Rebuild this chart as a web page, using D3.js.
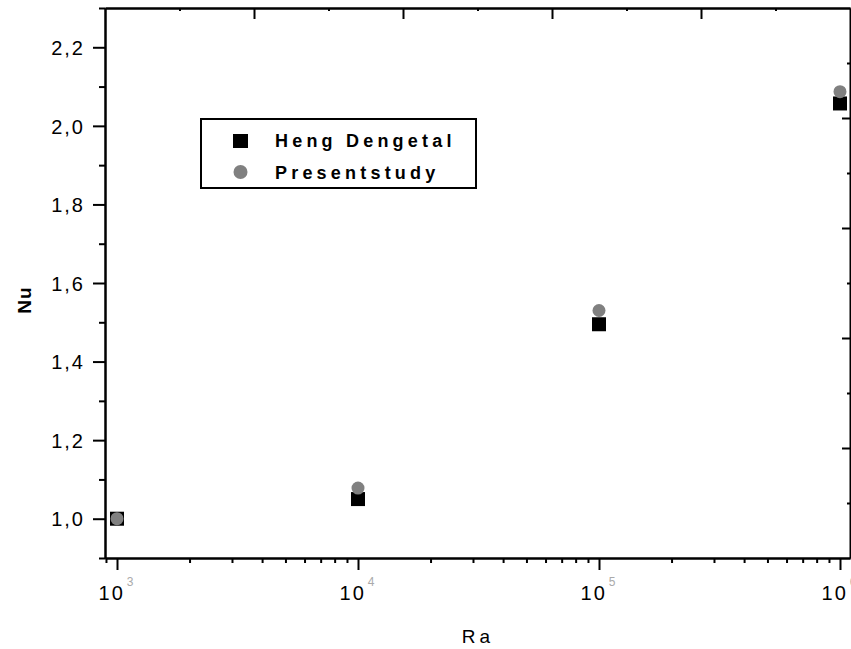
<!DOCTYPE html>
<html>
<head>
<meta charset="utf-8">
<script src="https://cdn.jsdelivr.net/npm/d3@7"></script>
<style>
  body { margin: 0; background: #fff; }
  svg { display: block; font-family: "Liberation Sans", Arial, sans-serif; }
  .axis path, .axis line { stroke: #000; stroke-width: 2; }
</style>
</head>
<body>
<svg id="chart" width="851" height="649"></svg>
<script>
// data
const ra = [1e3, 1e4, 1e5, 1e6];
const nuHengDeng = [1.0, 1.05, 1.495, 2.057];
const nuPresent = [1.0, 1.078, 1.53, 2.087];
const seriesNames = ["Heng Dengetal", "Presentstudy"];
const yTicks = [1.0, 1.2, 1.4, 1.6, 1.8, 2.0, 2.2];
const yMinor = [0.9, 1.1, 1.3, 1.5, 1.7, 1.9, 2.1, 2.3];
const xExponents = [3, 4, 5, 6];

const svg = d3.select('#chart');
const plotLeft = 105, plotRight = 850, plotTop = 8, plotBottom = 558;

// log axis, one decade is ~241px
const x = d3.scaleLog()
    .domain([Math.pow(10, 2.9502), Math.pow(10, 6.0415)])
    .range([plotLeft, plotRight]);
const y = d3.scaleLinear().domain([0.9, 2.3]).range([plotBottom, plotTop]);

// minor ticks 2..9 per decade (plus 900 at the left edge)
let xMinor = [];
for (let e = 2; e <= 6; e++) {
    for (let m = 2; m <= 9; m++) {
        const v = m * Math.pow(10, e);
        if (v >= x.domain()[0] && v <= x.domain()[1]) xMinor.push(v);
    }
}

// bottom axis
svg.append('g').attr('class', 'axis')
    .attr('transform', `translate(0,${plotBottom})`)
    .call(d3.axisBottom(x).tickValues(xMinor).tickSize(5).tickSizeOuter(0).tickFormat(''));
svg.append('g').attr('class', 'axis')
    .attr('transform', `translate(0,${plotBottom})`)
    .call(d3.axisBottom(x).tickValues(ra).tickSize(12).tickSizeOuter(0).tickFormat(''));

const xlab = svg.append('g').selectAll('text')
    .data(xExponents)
    .enter()
    .append('text')
    .attr('x', d => x(Math.pow(10, d)))
    .attr('y', 600)
    .attr('text-anchor', 'middle')
    .attr('font-size', 20)
    .attr('letter-spacing', 2);
xlab.append('tspan').text('10');
xlab.append('tspan')
    .attr('dy', -14)
    .attr('dx', 2)
    .attr('font-size', 12)
    .attr('fill', '#aaa')
    .text(d => d);

// left axis
svg.append('g').attr('class', 'axis')
    .attr('transform', `translate(${plotLeft},0)`)
    .call(d3.axisLeft(y).tickValues(yMinor).tickSize(6).tickSizeOuter(0).tickFormat(''));
const yAxis = svg.append('g').attr('class', 'axis')
    .attr('transform', `translate(${plotLeft},0)`)
    .call(d3.axisLeft(y).tickValues(yTicks).tickSize(12).tickSizeOuter(0)
        .tickFormat(d => d.toFixed(1).replace('.', ',')));
yAxis.selectAll('text')
    .attr('font-size', 20)
    .attr('letter-spacing', 2)
    .attr('font-family', '"Liberation Sans", Arial, sans-serif')
    .attr('fill', '#000')
    .attr('x', -20)
    .attr('dy', '0.36em');

// top and right frame axes (unlabelled)
const xTop = d3.scaleLinear().domain([0, 5]).range([plotLeft, plotRight]);
const yRight = d3.scaleLinear().domain([0, 5]).range([plotBottom, plotTop]);
const halfSteps = d3.range(0.5, 5, 1);
svg.append('g').attr('class', 'axis')
    .attr('transform', `translate(0,${plotTop})`)
    .call(d3.axisTop(xTop).tickValues(d3.range(1, 5)).tickSize(-11).tickSizeOuter(0).tickFormat(''));
svg.append('g').attr('class', 'axis')
    .attr('transform', `translate(0,${plotTop})`)
    .call(d3.axisTop(xTop).tickValues(halfSteps).tickSize(-3).tickSizeOuter(0).tickFormat(''));
const rightAx = svg.append('g').attr('class', 'axis')
    .attr('transform', `translate(${plotRight},0)`)
    .call(d3.axisRight(yRight).tickValues(d3.range(1, 5)).tickSize(-8).tickSizeOuter(0).tickFormat(''));
rightAx.select('path').attr('stroke', '#c8c8c8').attr('stroke-width', 1);
svg.append('g').attr('class', 'axis')
    .attr('transform', `translate(${plotRight},0)`)
    .call(d3.axisRight(yRight).tickValues(halfSteps).tickSize(-3).tickSizeOuter(0).tickFormat(''))
    .select('path').remove();

// axis titles
svg.append('text')
    .attr('transform', 'translate(31,300) rotate(-90)')
    .attr('text-anchor', 'middle')
    .attr('font-size', 19)
    .attr('font-weight', 'bold')
    .attr('letter-spacing', 1)
    .text('Nu');
svg.append('text')
    .attr('x', 478)
    .attr('y', 643)
    .attr('text-anchor', 'middle')
    .attr('font-size', 19)
    .attr('letter-spacing', 4)
    .text('Ra');

// points: squares first, grey circles drawn on top
svg.append('g').selectAll('rect')
    .data(ra)
    .enter()
    .append('rect')
    .attr('x', (d, i) => x(d) - 7)
    .attr('y', (d, i) => y(nuHengDeng[i]) - 7)
    .attr('width', 14)
    .attr('height', 14)
    .attr('fill', '#000');
svg.append('g').selectAll('circle')
    .data(ra)
    .enter()
    .append('circle')
    .attr('cx', d => x(d))
    .attr('cy', (d, i) => y(nuPresent[i]))
    .attr('r', 6.5)
    .attr('fill', '#808080');

// legend
const legend = svg.append('g');
legend.append('rect')
    .attr('x', 201).attr('y', 119)
    .attr('width', 275).attr('height', 69)
    .attr('fill', '#fff')
    .attr('stroke', '#000')
    .attr('stroke-width', 2);
legend.append('rect')
    .attr('x', 233).attr('y', 134)
    .attr('width', 15).attr('height', 14)
    .attr('fill', '#000');
legend.append('circle')
    .attr('cx', 240.5).attr('cy', 172)
    .attr('r', 7)
    .attr('fill', '#808080');
legend.selectAll('text')
    .data(seriesNames)
    .enter()
    .append('text')
    .attr('x', 275)
    .attr('y', (d, i) => 147 + i * 32)
    .attr('font-size', 18)
    .attr('font-weight', 'bold')
    .attr('letter-spacing', 4.2)
    .text(d => d);
</script>
</body>
</html>
